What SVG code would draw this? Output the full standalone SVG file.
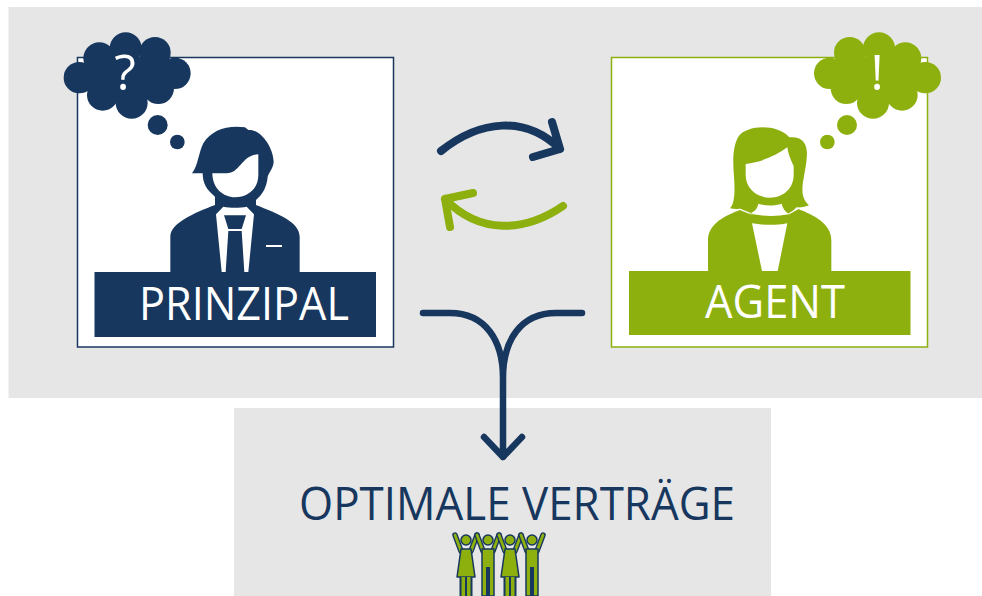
<svg xmlns="http://www.w3.org/2000/svg" width="982" height="596" viewBox="0 0 982 596">
<style>
.navy{fill:#17375e}.green{fill:#8db00f}.white{fill:#fff}.bg{fill:#e6e6e6}
.lbl{font-family:"Open Sans","Noto Sans",sans-serif;fill:#fff}
.title{font-family:"Open Sans","Noto Sans",sans-serif;fill:#17375e}
.c{fill:none;stroke-linecap:round;stroke-linejoin:round}
.pa{fill:none;stroke:#17375e;stroke-width:5.500;stroke-linecap:round;stroke-linejoin:round}
.pb{fill:none;stroke:#8db00f;stroke-width:2.800;stroke-linecap:round;stroke-linejoin:round}
.pf{fill:#8db00f;stroke:#17375e;stroke-width:1.500;stroke-linejoin:round}
</style>
<defs>
<g id="cloud">
<circle cx="58" cy="143" r="47"/><circle cx="118" cy="85" r="48"/><circle cx="197" cy="55" r="48"/><circle cx="285" cy="68" r="47"/><circle cx="345" cy="130" r="47"/><circle cx="295" cy="175" r="47"/><circle cx="128" cy="195" r="47"/><circle cx="215" cy="218" r="48"/><rect x="85" y="80" width="235" height="120"/>
<circle cx="293" cy="285" r="30"/><circle cx="352" cy="336" r="22"/>
</g>
<g id="woman-fig">
<path class="pa" d="M-5,19 L-11,3 M5,19 L11,3"/>
<path class="pb" d="M-5,19 L-11,3 M5,19 L11,3"/>
<circle class="pf" cx="0" cy="8" r="5"/>
<path class="pf" d="M-5,17 H5 L9,45 H-9 Z"/>
<rect class="navy" x="-6.500" y="45" width="13" height="19"/>
<rect class="green" x="-4.500" y="45" width="3.500" height="19"/><rect class="green" x="1" y="45" width="3.500" height="19"/>
</g>
<g id="man-fig">
<path class="pa" d="M-5,19 L-11,3 M5,19 L11,3"/>
<path class="pb" d="M-5,19 L-11,3 M5,19 L11,3"/>
<circle class="pf" cx="0" cy="8" r="5"/>
<path class="pf" d="M-6,17 H6 V64 H-6 Z"/>
<rect class="navy" x="-2" y="35" width="4" height="29"/>
</g>
</defs>
<rect id="bg-top" class="bg" x="8.500" y="7" width="973.500" height="391"/>
<rect id="bg-bottom" class="bg" x="234" y="408" width="537" height="188"/>

<g id="prinzipal">
<rect x="77.500" y="57.500" width="316" height="289.500" class="white" stroke="#17375e" stroke-width="1.500"/>
<g transform="translate(60,30) scale(.33333)">
<use href="#cloud" class="navy"/>
<path class="navy" d="M331,726 V620 C331,580 400,550 465,525 V500 C440,480 428,460 428,430 H396 C415,405 415,370 430,340 C455,300 500,285 555,292 L565,300 C600,295 640,350 641,395 C640,415 625,430 623,440 C620,475 605,495 588,510 V525 C650,550 719,575 719,620 V726 Z"/>
<path class="white" d="M457,430 H500 C540,430 545,375 595,373 V435 C595,475 565,502 525,502 C490,502 457,475 457,430 Z"/>
<path class="white" d="M468,553 L490,530 C510,534 540,534 560,530 L582,553 L565,726 H553 L545,603 H505 L497,726 H485 Z"/>
<path class="navy" d="M492,556 H558 L545,597 H505 Z"/>
<path class="white" d="M618,645 H666 V651 H618 Z"/>
</g>
<rect class="navy" x="94.500" y="272" width="281.500" height="65"/>
<text class="lbl" x="139" y="319.500" font-size="45" textLength="210" lengthAdjust="spacingAndGlyphs">PRINZIPAL</text>
<text class="lbl" x="125" y="90" font-size="50" text-anchor="middle">?</text>
</g>

<g id="agent">
<rect x="611.500" y="57.500" width="316" height="289.500" class="white" stroke="#8db00f" stroke-width="1.500"/>
<g transform="translate(600,30) scale(.33333)">
<use href="#cloud" class="green" transform="translate(1034,0) scale(-1,1)"/>
<path class="green" d="M390,535 C405,520 405,480 402,440 C398,390 398,350 415,320 C440,285 530,280 568,322 C590,320 620,325 621,370 C620,420 600,470 610,500 C615,515 625,525 628,526 C610,532 600,533 590,532 L568,552 H450 L420,536 C410,538 400,537 390,535 Z"/>
<path class="green" d="M324,723 V630 C324,580 380,555 420,540 L450,553 H568 L595,537 C640,555 694,580 694,630 V723 Z"/>
<path class="white" d="M437,402 C490,395 530,375 562,352 C565,375 575,395 581,408 V435 C581,475 550,503 510,503 C470,503 437,475 437,435 Z"/>
<path class="white" d="M475,521 C495,528 525,528 545,521 C548,535 555,545 568,552 C530,560 490,560 450,550 C465,545 472,535 475,521 Z"/>
<path class="white" d="M456,580 C490,586 530,586 562,580 L533,723 H486 Z"/>
<path fill="none" stroke="#fff" stroke-width="3" d="M418,537 L452,550 M598,534 L566,551"/>
</g>
<rect class="green" x="629" y="271" width="281.500" height="64"/>
<text class="lbl" x="705" y="318" font-size="45" textLength="140" lengthAdjust="spacingAndGlyphs">AGENT</text>
<text class="lbl" x="877" y="90" font-size="50" text-anchor="middle">!</text>
</g>

<g id="connectors">
<path class="c" stroke="#17375e" stroke-width="8" d="M441,151 C480,120 525,115 560,149 M552,122 L560,149 L533,157"/>
<path class="c" stroke="#8db00f" stroke-width="8" d="M563,206 C525,232 480,235 445,199 M473,193 L445,199 L450,227"/>
<path class="c" stroke="#17375e" stroke-width="6.500" d="M423,313 H450 C485,313 503,340 503,378 C503,340 521,313 556,313 H582 M503,378 V457 M484,437 L503,457 L522,437"/>
</g>

<g id="optimale-vertraege">
<text class="title" x="299" y="520" font-size="45" textLength="436" lengthAdjust="spacingAndGlyphs">OPTIMALE VERTRÄGE</text>
<use href="#woman-fig" x="466" y="532"/>
<use href="#man-fig" x="488" y="532"/>
<use href="#woman-fig" x="510" y="532"/>
<use href="#man-fig" x="532" y="532"/>
</g>
</svg>
